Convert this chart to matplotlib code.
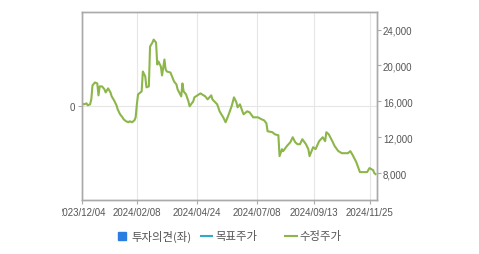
import matplotlib
matplotlib.use("Agg")
import matplotlib.pyplot as plt
from matplotlib.patches import Rectangle
from matplotlib.lines import Line2D

# ---- data (trading-day index, adjusted price) ----
days = [0, 2, 4, 5, 7, 8, 9, 11, 13, 14,
        15, 17, 19, 20, 22, 24, 25, 27, 29, 30,
        32, 34, 35, 37, 39, 40, 42, 44, 45, 46,
        47, 49, 50, 51, 53, 54, 56, 57, 59, 60,
        62, 63, 64, 66, 67, 69, 70, 71, 74, 75,
        77, 79, 80, 83, 84, 85, 87, 89, 90, 93,
        94, 99, 103, 105, 108, 109, 113, 115, 118, 120,
        122, 125, 127, 129, 130, 132, 134, 135, 138, 140,
        143, 147, 150, 152, 154, 155, 159, 161, 164, 165,
        167, 168, 171, 174, 176, 178, 180, 182, 184, 187,
        189, 190, 193, 195, 198, 201, 203, 204, 206, 209,
        211, 214, 217, 219, 222, 224, 226, 229, 232, 236,
        238, 240, 243, 244, 245]

prices = [15780, 15670, 15780, 15560, 15670, 16220, 17780, 18110, 18000, 16670,
          17670, 17670, 17330, 17000, 17450, 17000, 16560, 16110, 15560, 15110,
          14560, 14220, 14000, 13780, 13670, 13780, 13670, 13890, 14220, 15670,
          16780, 17000, 17110, 19330, 18780, 17560, 17670, 22110, 22560, 22890,
          22560, 20110, 20450, 19890, 18890, 20670, 19560, 19330, 19220, 18890,
          18220, 17890, 17330, 16560, 18000, 17110, 16780, 16000, 15450, 16000,
          16450, 16890, 16560, 16220, 16670, 16220, 15670, 14890, 14220, 13670,
          14330, 15450, 16450, 15890, 15330, 15670, 14890, 14560, 14890, 14780,
          14220, 14220, 14000, 13890, 13560, 12670, 12560, 12330, 12220, 9890,
          10670, 10450, 11000, 11450, 12000, 11450, 11220, 11220, 11780, 11220,
          10670, 9890, 10890, 10670, 11560, 12000, 11560, 12560, 12330, 11560,
          11000, 10450, 10220, 10220, 10220, 10450, 10000, 9220, 8110, 8110,
          8110, 8560, 8330, 8000, 7890]

date_tick_days = [0, 46, 96, 146, 194, 240]
date_tick_labels = ["2023/12/04", "2024/02/08", "2024/04/24",
                    "2024/07/08", "2024/09/13", "2024/11/25"]
price_ticks = [8000, 12000, 16000, 20000, 24000]
legend_labels = ["투자의견(좌)", "목표주가", "수정주가"]

# ---- styles ----
GREEN = "#8cb64a"
BLUE = "#2b7de1"
CYAN = "#2faac8"
SPINE = "#aaaaaa"
GRID = "#e6e6e6"
TXT = "#555555"
TICKFONT = "Liberation Sans"
KFONT = ["Noto Sans CJK KR", "DejaVu Sans"]

W, H = 479, 255
fig = plt.figure(figsize=(W / 100, H / 100), dpi=100)
L, R, T, B = 81.7, 376.7, 12.7, 201.0
ax = fig.add_axes([L / W, 1 - B / H, (R - L) / W, (B - T) / H])
ax2 = ax.twinx()

# left axis (investment opinion): only a zero line
ax.set_ylim(-1, 1)
ax.set_yticks([0])
ax.set_yticklabels(["0"], fontfamily=TICKFONT, fontsize=7, color=TXT)
ax.set_xlim(0, 246)
ax.set_xticks(date_tick_days)
ax.set_xticklabels(date_tick_labels, fontfamily=TICKFONT, fontsize=7, color=TXT)
ax.grid(True, color=GRID, linewidth=0.8)
ax.set_axisbelow(True)
ax.tick_params(axis="both", length=3, color=SPINE, width=0.8, pad=2)

# right axis (price)
ax2.plot(days, prices, color=GREEN, linewidth=1.5, solid_joinstyle="round")
ax2.set_ylim(5000, 26000)
ax2.set_yticks(price_ticks)
ax2.set_yticklabels([f"{v:,}" for v in price_ticks], fontfamily=TICKFONT,
                    fontsize=7, color=TXT)
ax2.tick_params(axis="y", length=3, color=SPINE, width=0.8, pad=1.5)

for a in (ax, ax2):
    for s in a.spines.values():
        s.set_color(SPINE)
        s.set_linewidth(1.0)

# the reference's canvas cuts off the start of the first date label
cover = Rectangle((0, 1 - 225 / H), 61.5 / W, 25 / H, transform=fig.transFigure,
                  facecolor="white", edgecolor="none", zorder=20)
fig.add_artist(cover)

# legend (manual)
ly = 1 - 236.5 / H
fig.patches.append(Rectangle((117.5 / W, 1 - 240.5 / H), 8 / W, 8 / H,
                             transform=fig.transFigure, color=BLUE))
fig.text(131 / W, ly, legend_labels[0], family=KFONT, fontsize=8.2,
         color=TXT, va="center", ha="left")
fig.lines.append(Line2D([201 / W, 212 / W], [ly, ly], transform=fig.transFigure,
                        color=CYAN, linewidth=1.5))
fig.text(215 / W, ly, legend_labels[1], family=KFONT, fontsize=8.2,
         color=TXT, va="center", ha="left")
fig.lines.append(Line2D([285 / W, 297 / W], [ly, ly], transform=fig.transFigure,
                        color=GREEN, linewidth=1.5))
fig.text(299 / W, ly, legend_labels[2], family=KFONT, fontsize=8.2,
         color=TXT, va="center", ha="left")

fig.savefig("out.png", dpi=100)
